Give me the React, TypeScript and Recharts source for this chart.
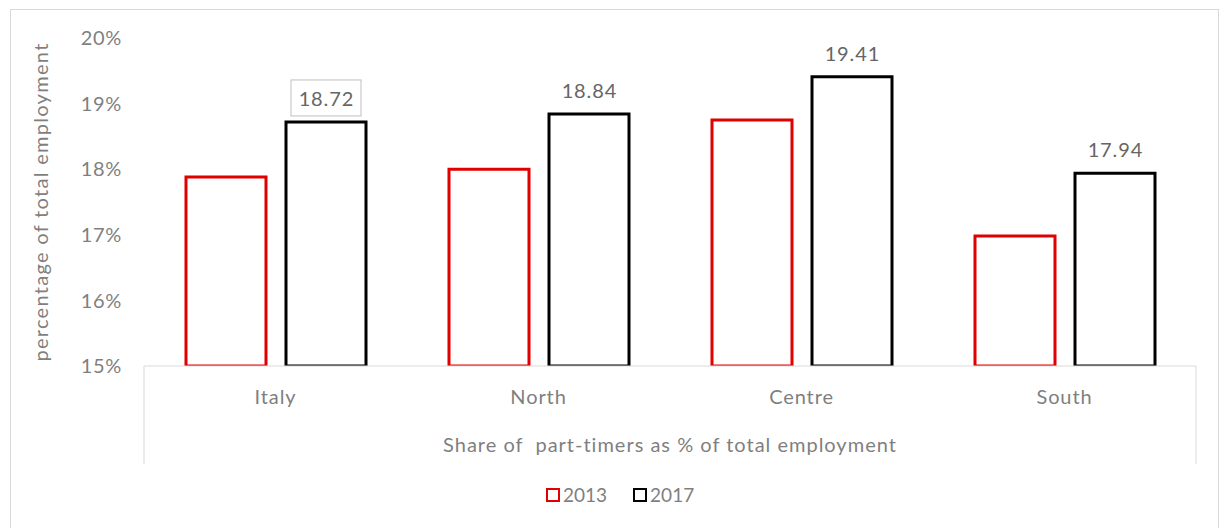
import React from 'react';
import { BarChart, Bar, XAxis, YAxis, LabelList } from 'recharts';

const regions = ['Italy', 'North', 'Centre', 'South'];
const share2013 = [17.88, 18.0, 18.75, 16.98];
const share2017 = [18.72, 18.84, 19.41, 17.94];
const yTicks = [15, 16, 17, 18, 19, 20];

const data = regions.map((region, i) => ({
  region,
  y2013: share2013[i],
  y2017: share2017[i],
}));

const FONT = 'Lato, "Open Sans", sans-serif';
const GREY = '#7f7f7f';
const AXIS = '#d9d9d9';
const SPACING = 0.9;

// label above 2017 bars; Italy's one sits in a little box like the original
const TopLabel = (props: any) => {
  const { x, y, width, value, index } = props;
  const cx = x + width / 2;
  const cy = y - 24;
  return (
    <g>
      {index === 0 && (
        <rect x={cx - 35} y={cy - 18} width={70} height={36} fill="#fff" stroke="#bfbfbf" strokeWidth={1} />
      )}
      <text
        x={cx + SPACING / 2}
        y={cy}
        textAnchor="middle"
        dominantBaseline="central"
        fill="#666"
        fontSize={20}
        fontFamily={FONT}
        letterSpacing={SPACING}
      >
        {value.toFixed(2)}
      </text>
    </g>
  );
};

// x axis title plus the two side lines that close the category table
const XTitle = (props: any) => {
  const { viewBox } = props;
  const { x, y, width } = viewBox;
  return (
    <g>
      <line x1={x} y1={y} x2={x} y2={y + 98} stroke={AXIS} />
      <line x1={x + width} y1={y} x2={x + width} y2={y + 98} stroke={AXIS} />
      <text
        x={x + width / 2}
        y={y + 86}
        textAnchor="middle"
        fill={GREY}
        fontSize={20}
        fontFamily={FONT}
        letterSpacing={1}
      >
        {'Share of\u00a0 part-timers as % of total employment'}
      </text>
    </g>
  );
};

export default function App() {
  return (
    <div style={{ position: 'absolute', left: 0, top: 0, width: 1221, height: 528, background: '#fff', fontFamily: FONT }}>
      <div style={{ position: 'absolute', left: 10, top: 9, width: 1209, height: 530, border: '1px solid #d9d9d9', boxSizing: 'border-box' }} />
      <BarChart
        width={1221}
        height={528}
        data={data}
        margin={{ top: 38, right: 25, left: 0, bottom: 0 }}
        barGap={20}
        barSize={80}
        style={{ position: 'absolute', left: 0, top: 0 }}
      >
        <XAxis
          dataKey="region"
          height={162}
          tickLine={false}
          axisLine={{ stroke: AXIS }}
          tick={{ fill: GREY, fontSize: 20, fontFamily: FONT, letterSpacing: SPACING }}
          tickMargin={18}
          label={<XTitle />}
        />
        <YAxis
          width={144}
          domain={[15, 20]}
          ticks={yTicks}
          allowDataOverflow
          axisLine={false}
          tickLine={false}
          tickFormatter={(v: number) => `${v}%`}
          tick={{ fill: GREY, fontSize: 20, fontFamily: FONT, letterSpacing: 0.7, dx: -14 }}
          label={{
            value: 'percentage of total employment',
            angle: -90,
            position: 'insideLeft',
            dx: 36,
            dy: 0,
            style: { fill: GREY, fontSize: 20, fontFamily: FONT, textAnchor: 'middle', letterSpacing: 1.3 },
          }}
        />
        <Bar dataKey="y2013" fill="#fff" stroke="#e00000" strokeWidth={3} isAnimationActive={false} />
        <Bar dataKey="y2017" fill="#fff" stroke="#000" strokeWidth={3} isAnimationActive={false}>
          <LabelList dataKey="y2017" content={<TopLabel />} />
        </Bar>
      </BarChart>
      <div style={{ position: 'absolute', left: 546, top: 483, display: 'flex', alignItems: 'center', fontSize: 19, color: GREY }}>
        <span style={{ width: 10, height: 10, border: '2px solid #e00000', display: 'inline-block', marginRight: 3 }} />
        <span style={{ marginRight: 26 }}>2013</span>
        <span style={{ width: 10, height: 10, border: '2px solid #000', display: 'inline-block', marginRight: 3 }} />
        <span>2017</span>
      </div>
    </div>
  );
}
